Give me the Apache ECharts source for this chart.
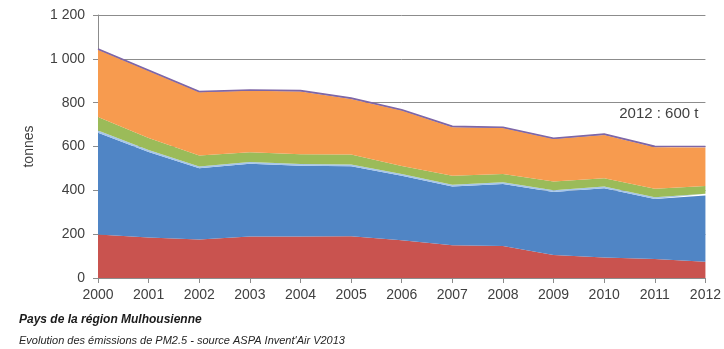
<!DOCTYPE html>
<html>
<head>
<meta charset="utf-8">
<script src="https://cdn.jsdelivr.net/npm/echarts@6/dist/echarts.min.js"></script>
<style>
  html, body { margin: 0; padding: 0; background: #fff; }
  #chart { width: 724px; height: 349px; }
</style>
</head>
<body>
<div id="chart"></div>
<script>
// PM2.5 emissions by source group, tonnes per year (stacked)
const years = ['2000', '2001', '2002', '2003', '2004', '2005', '2006', '2007', '2008', '2009', '2010', '2011', '2012'];
const redSeries    = [198, 185, 176, 189, 189, 190, 172, 150, 146, 105, 94, 87, 74];
const blueSeries   = [465, 390, 325, 332, 323, 320, 295, 268, 283, 287, 315, 274, 302];
const aquaSeries   = [10, 9, 8, 8, 8, 8, 8, 8, 8, 8, 8, 8, 8];
const greenSeries  = [62, 55, 50, 45, 45, 45, 36, 40, 38, 40, 38, 38, 36];
const orangeSeries = [306, 305, 288, 280, 286, 254, 253, 222, 209, 194, 198, 190, 176];
const purpleSeries = [4, 4, 4, 4, 4, 4, 4, 4, 4, 4, 4, 4, 4];
const yTicks = [0, 200, 400, 600, 800, 1000, 1200];

const layers = [
  { data: redSeries, color: '#c9534f' },
  { data: blueSeries, color: '#5085c5' },
  { data: aquaSeries, color: '#a6c6ea' },
  { data: greenSeries, color: '#9bbb59' },
  { data: orangeSeries, color: '#f79b4f' },
  { data: purpleSeries, color: '#7e66a6' }
];

const last = years.length - 1;
const total2012 = layers.reduce((s, l) => s + l.data[last], 0);

const font = 'Liberation Sans, Arial, sans-serif';

const series = layers.map((l, i) => {
  const isTop = i === layers.length - 1;
  const s = {
    type: 'line',
    stack: 'total',
    data: l.data,
    symbol: 'none',
    areaStyle: { color: l.color, opacity: 1 },
    lineStyle: { width: isTop ? 1.5 : 0, color: l.color },
    itemStyle: { color: l.color },
    z: 2
  };
  if (isTop) {
    // total for the last year, placed above the end of the top line
    s.endLabel = {
      show: true,
      distance: 0,
      align: 'right',
      verticalAlign: 'middle',
      offset: [-7, -33],
      formatter: () => years[last] + ' : ' + total2012 + ' t',
      color: '#404040',
      fontSize: 15,
      fontFamily: font
    };
  }
  return s;
});

const chart = echarts.init(document.getElementById('chart'), null, { renderer: 'canvas' });
chart.setOption({
  animation: false,
  backgroundColor: '#ffffff',
  grid: { left: 98, right: 14, top: 15, bottom: 71, containLabel: false },
  xAxis: {
    type: 'category',
    data: years,
    boundaryGap: false,
    axisLine: { lineStyle: { color: '#8c8c8c', width: 1 } },
    axisTick: { show: true, length: 5, lineStyle: { color: '#8c8c8c' } },
    axisLabel: { color: '#404040', fontSize: 14, fontFamily: font, margin: 10, showMaxLabel: true },
    splitLine: { show: false },
    z: 5
  },
  yAxis: {
    type: 'value',
    min: yTicks[0],
    max: yTicks[yTicks.length - 1],
    interval: 200,
    name: 'tonnes',
    nameLocation: 'middle',
    nameGap: 62,
    nameRotate: 90,
    nameTextStyle: { color: '#404040', fontSize: 14, fontFamily: font },
    axisLine: { show: true, lineStyle: { color: '#8c8c8c', width: 1 } },
    axisTick: { show: true, length: 5, lineStyle: { color: '#8c8c8c' } },
    axisLabel: {
      color: '#404040', fontSize: 14, fontFamily: font, margin: 13,
      formatter: v => String(v).replace(/\B(?=(\d{3})+(?!\d))/g, ' ')
    },
    splitLine: { show: true, lineStyle: { color: '#8c8c8c', width: 1 } }
  },
  graphic: [
    {
      type: 'text', left: 19, top: 314,
      style: { text: 'Pays de la région Mulhousienne', fill: '#1a1a1a', fontSize: 12, fontWeight: 'bold', fontStyle: 'italic', fontFamily: font }
    },
    {
      type: 'text', left: 19, top: 335,
      style: { text: "Evolution des émissions de PM2.5 - source ASPA Invent'Air V2013", fill: '#262626', fontSize: 11, fontStyle: 'italic', fontFamily: font }
    }
  ],
  series: series
});
</script>
</body>
</html>
